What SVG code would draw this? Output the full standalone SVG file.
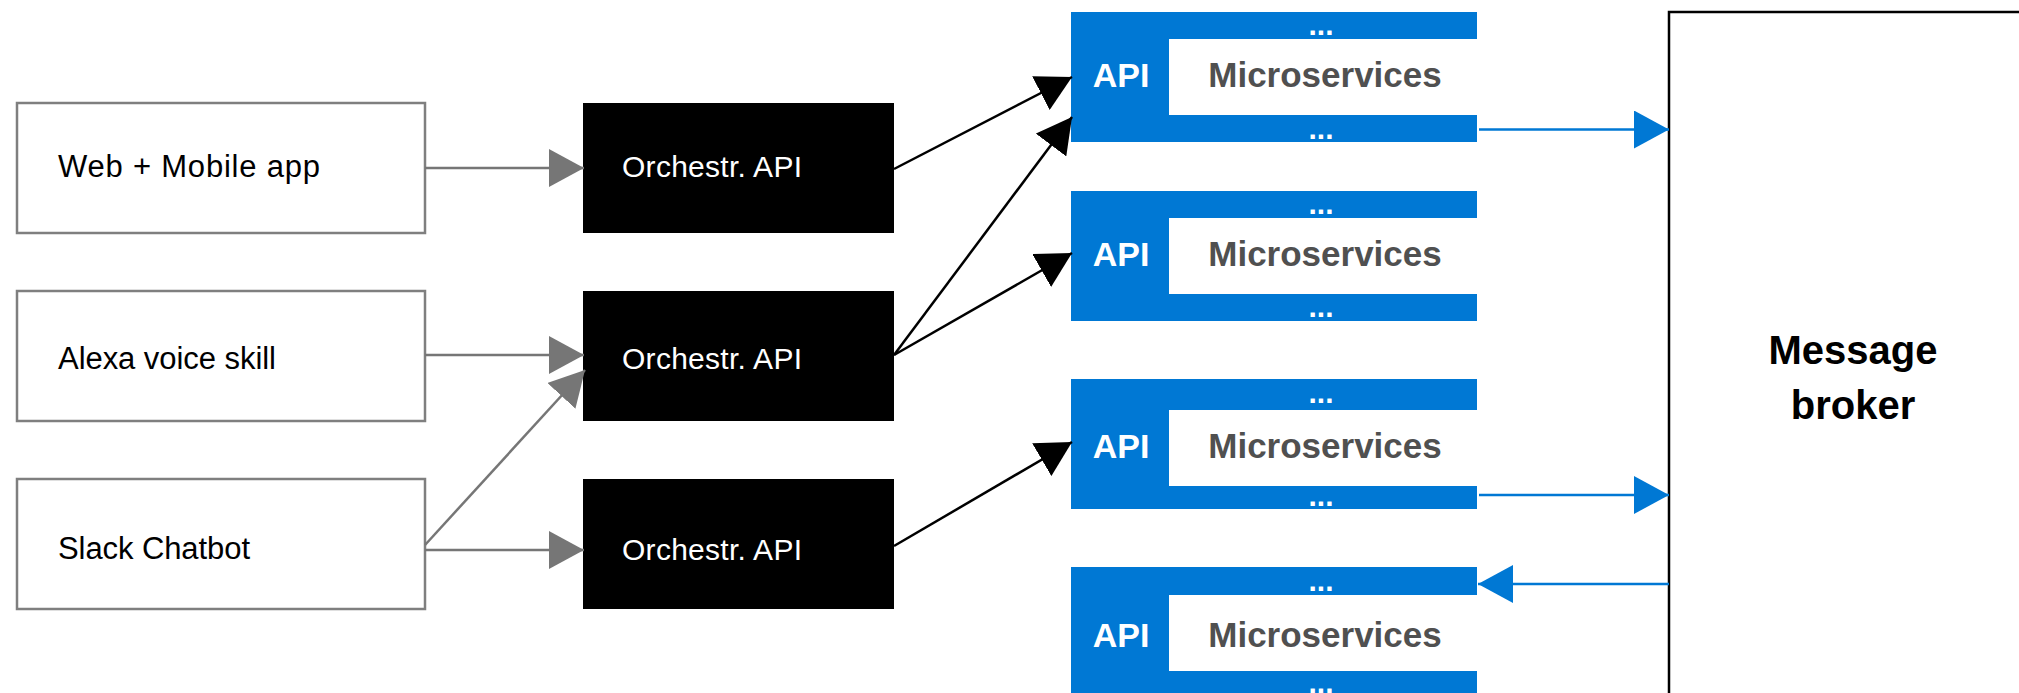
<svg xmlns="http://www.w3.org/2000/svg" width="2019" height="693" viewBox="0 0 2019 693">
<style>
.src{fill:#fff;stroke:#7f7f7f;stroke-width:2.5}
.srct{font-family:"Liberation Sans",Arial,sans-serif;font-size:31px;fill:#000}
.orch{fill:#000}
.orcht{font-family:"Liberation Sans",Arial,sans-serif;font-size:30px;fill:#fff}
.blue{fill:#0078d4}
.white{fill:#fff}
.api{font-family:"Liberation Sans",Arial,sans-serif;font-weight:bold;font-size:34px;fill:#fff;text-anchor:middle}
.ms{font-family:"Liberation Sans",Arial,sans-serif;font-weight:bold;font-size:35px;fill:#505050;text-anchor:middle}
.dots{font-family:"Liberation Sans",Arial,sans-serif;font-weight:bold;font-size:30px;fill:#fff;text-anchor:middle}
.broker{fill:#fff;stroke:#000;stroke-width:2.5}
.brokert{font-family:"Liberation Sans",Arial,sans-serif;font-weight:bold;font-size:40px;fill:#000;text-anchor:middle}
.gray{stroke:#767676;stroke-width:2.5;fill:none}
.black{stroke:#000;stroke-width:2.5;fill:none}
.bl{stroke:#0078d4;stroke-width:2.5;fill:none}
</style>
<defs>
<marker id="ag" markerUnits="userSpaceOnUse" markerWidth="36" markerHeight="38" refX="35" refY="19" orient="auto"><path d="M0,0 L35,19 L0,38 Z" fill="#767676"/></marker>
<marker id="ak" markerUnits="userSpaceOnUse" markerWidth="36" markerHeight="38" refX="35" refY="19" orient="auto"><path d="M0,0 L35,19 L0,38 Z" fill="#000"/></marker>
<marker id="ab" markerUnits="userSpaceOnUse" markerWidth="36" markerHeight="38" refX="35" refY="19" orient="auto"><path d="M0,0 L35,19 L0,38 Z" fill="#0078d4"/></marker>
</defs>
<rect width="2019" height="693" fill="#fff"/>

<g id="web"><rect class="src" x="17" y="103" width="408" height="130"/><text class="srct" x="58" y="177" textLength="262" lengthAdjust="spacing">Web + Mobile app</text></g>
<g id="alexa"><rect class="src" x="17" y="291" width="408" height="130"/><text class="srct" x="58" y="369" textLength="218" lengthAdjust="spacing">Alexa voice skill</text></g>
<g id="slack"><rect class="src" x="17" y="479" width="408" height="130"/><text class="srct" x="58" y="559" textLength="192" lengthAdjust="spacing">Slack Chatbot</text></g>

<g id="orch1"><rect class="orch" x="583" y="103" width="311" height="130"/><text class="orcht" x="622" y="177" textLength="180" lengthAdjust="spacing">Orchestr. API</text></g>
<g id="orch2"><rect class="orch" x="583" y="291" width="311" height="130"/><text class="orcht" x="622" y="369" textLength="180" lengthAdjust="spacing">Orchestr. API</text></g>
<g id="orch3"><rect class="orch" x="583" y="479" width="311" height="130"/><text class="orcht" x="622" y="560" textLength="180" lengthAdjust="spacing">Orchestr. API</text></g>

<g id="ms1"><rect class="blue" x="1071" y="12" width="406" height="130"/><rect class="white" x="1169" y="39" width="308" height="76"/><text class="dots" x="1321" y="35">...</text><text class="dots" x="1321" y="139">...</text><text class="api" x="1121" y="87">API</text><text class="ms" x="1325" y="87">Microservices</text></g>
<g id="ms2"><rect class="blue" x="1071" y="191" width="406" height="130"/><rect class="white" x="1169" y="218" width="308" height="76"/><text class="dots" x="1321" y="214">...</text><text class="dots" x="1321" y="317">...</text><text class="api" x="1121" y="266">API</text><text class="ms" x="1325" y="266">Microservices</text></g>
<g id="ms3"><rect class="blue" x="1071" y="379" width="406" height="130"/><rect class="white" x="1169" y="410" width="308" height="76"/><text class="dots" x="1321" y="403">...</text><text class="dots" x="1321" y="506">...</text><text class="api" x="1121" y="458">API</text><text class="ms" x="1325" y="458">Microservices</text></g>
<g id="ms4"><rect class="blue" x="1071" y="567" width="406" height="140"/><rect class="white" x="1169" y="595" width="308" height="76"/><text class="dots" x="1321" y="591">...</text><text class="dots" x="1321" y="693">...</text><text class="api" x="1121" y="647">API</text><text class="ms" x="1325" y="647">Microservices</text></g>

<g id="broker"><rect class="broker" x="1669" y="12" width="420" height="720"/><text class="brokert" x="1853" y="364">Message</text><text class="brokert" x="1853" y="419">broker</text></g>

<g id="connectors">
<line class="gray" x1="425" y1="168" x2="584" y2="168" marker-end="url(#ag)"/>
<line class="gray" x1="425" y1="355" x2="584" y2="355" marker-end="url(#ag)"/>
<line class="gray" x1="425" y1="550" x2="584" y2="550" marker-end="url(#ag)"/>
<line class="gray" x1="425" y1="545" x2="585" y2="370" marker-end="url(#ag)"/>
<line class="black" x1="894" y1="169" x2="1072" y2="77" marker-end="url(#ak)"/>
<line class="black" x1="894" y1="355" x2="1072" y2="117" marker-end="url(#ak)"/>
<line class="black" x1="894" y1="355" x2="1072" y2="253" marker-end="url(#ak)"/>
<line class="black" x1="894" y1="546" x2="1072" y2="442" marker-end="url(#ak)"/>
<line class="bl" x1="1479" y1="129.5" x2="1669" y2="129.5" marker-end="url(#ab)"/>
<line class="bl" x1="1479" y1="495" x2="1669" y2="495" marker-end="url(#ab)"/>
<line class="bl" x1="1669" y1="584" x2="1478" y2="584" marker-end="url(#ab)"/>
</g>
</svg>
